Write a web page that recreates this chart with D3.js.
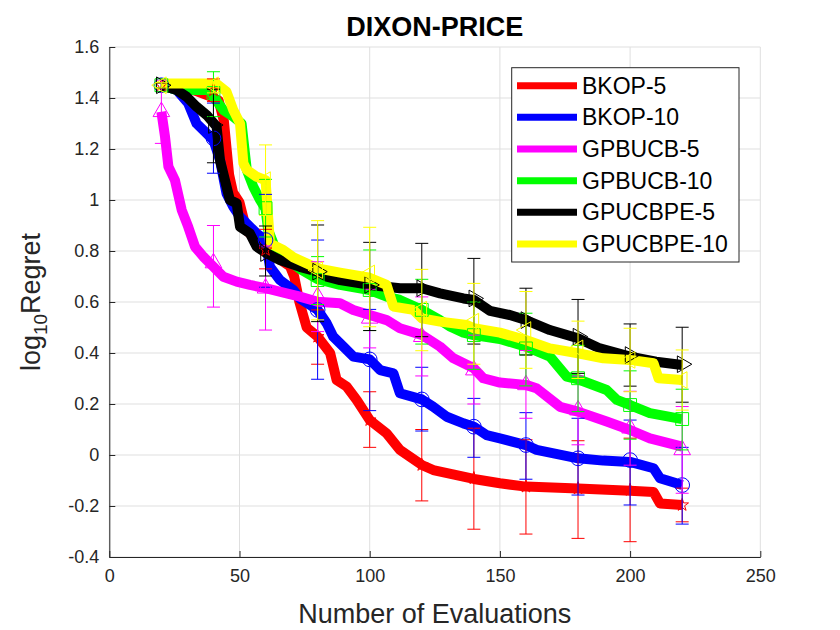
<!DOCTYPE html>
<html>
<head>
	<title> dixon-price regret </title>
	<script src="https://d3js.org/d3.v7.min.js"></script>
	<style>
		body { margin: 0; background: #fff; }
		text { font-family: "Liberation Sans", Arial, Helvetica, sans-serif; }
	</style>
</head>
<body>
	<svg width="840" height="630"></svg>
	<script type="text/javascript">
		// series names and colours, in plotting order
		let names = ["BKOP-5", "BKOP-10", "GPBUCB-5", "GPBUCB-10", "GPUCBPE-5", "GPUCBPE-10"];
		let colors = ["#ff0000", "#0000ff", "#ff00ff", "#00ff00", "#000000", "#ffff00"];

		// traced mean curves, [evaluations, log10 regret]
		let bkop5 = [[20,1.45],[30,1.44],[38,1.41],[42,1.39],[44,1.31],[46,1.1],[47.5,1.03],[50,0.99],[52.7,0.88],[56,0.85],[60,0.80],[65,0.77],[69.4,0.74],[71,0.70],[73,0.6],[75.8,0.50],[80,0.464],[84.8,0.40],[87.3,0.294],[91.2,0.268],[95,0.216],[100,0.137],[106.5,0.085],[111.6,0.02],[120,-0.039],[124.4,-0.059],[140,-0.094],[150,-0.111],[160,-0.124],[180,-0.131],[200,-0.14],[209,-0.145],[211.5,-0.19],[220,-0.196]];
		let bkop10 = [[20,1.45],[25.9,1.431],[30.3,1.379],[33.5,1.30],[37.4,1.261],[40,1.235],[42.5,1.157],[45,1.026],[47.6,0.974],[50.2,0.934],[54,0.895],[56.6,0.869],[60,0.843],[61.7,0.738],[65.5,0.686],[70.7,0.647],[73.2,0.614],[80,0.569],[83.5,0.516],[86,0.464],[89.9,0.425],[93.7,0.386],[100,0.375],[104,0.333],[109.1,0.320],[111.6,0.242],[120,0.218],[124.4,0.189],[129.6,0.150],[136,0.124],[140,0.111],[144.9,0.078],[150,0.065],[160,0.039],[164.1,0.02],[180,-0.013],[189.7,-0.022],[200,-0.027],[209,-0.052],[211.5,-0.091],[220,-0.118]];
		let gpbucb5 = [[20,1.346],[21.4,1.248],[22.7,1.131],[25.2,1.078],[27.8,0.961],[30.3,0.895],[32.9,0.817],[36.1,0.778],[40,0.738],[43.8,0.699],[48.9,0.68],[54,0.667],[60,0.654],[68.1,0.634],[73.2,0.621],[80,0.601],[88.6,0.595],[93.7,0.569],[100,0.549],[106.5,0.529],[111.6,0.497],[120,0.471],[127,0.425],[132,0.38],[140,0.34],[143.6,0.301],[150,0.284],[160,0.275],[164,0.262],[173.1,0.189],[180,0.17],[191,0.131],[200,0.098],[207.6,0.065],[220,0.033]];
		let gpbucb10 = [[20,1.45],[26,1.431],[39,1.431],[40,1.405],[43.8,1.353],[47.6,1.327],[50.8,1.30],[52.8,1.118],[55.3,1.052],[57.9,1.0],[60,0.965],[61,0.882],[63,0.83],[64.3,0.778],[68.1,0.77],[73.2,0.73],[80,0.69],[88.6,0.667],[100,0.647],[106.5,0.621],[111.6,0.608],[120,0.569],[127,0.529],[131,0.503],[136,0.48],[140,0.47],[150,0.455],[160,0.425],[169.2,0.386],[175.7,0.307],[180,0.297],[191,0.255],[194.9,0.216],[200,0.196],[207.6,0.164],[220,0.141]];
		let gpucbpe5 = [[20,1.45],[25.9,1.431],[29.7,1.405],[33.5,1.366],[37.4,1.333],[41.2,1.288],[42.5,1.157],[46.3,1.0],[48.9,0.987],[50.2,0.895],[54,0.869],[56.6,0.817],[60.4,0.791],[65.5,0.765],[73.2,0.738],[80,0.719],[83.5,0.699],[88.6,0.686],[100,0.667],[111.6,0.654],[120,0.654],[127,0.634],[136,0.614],[140,0.608],[146.2,0.565],[153.8,0.549],[160,0.529],[169.2,0.49],[180,0.458],[188.4,0.418],[200,0.386],[210,0.366],[220,0.353]];
		let gpucbpe10 = [[20,1.457],[41,1.457],[45,1.425],[47.6,1.353],[50.2,1.30],[51.5,1.144],[52.8,1.118],[56.6,1.091],[60,1.078],[61,0.934],[61.7,0.83],[66.8,0.804],[70.7,0.775],[80,0.732],[88.6,0.715],[100,0.695],[106.5,0.667],[109.1,0.582],[116.8,0.569],[120,0.536],[127,0.523],[137.3,0.51],[140,0.497],[150,0.48],[160,0.451],[169.2,0.418],[180,0.399],[189.7,0.379],[200,0.373],[209,0.36],[210.9,0.301],[220,0.294]];
		let curves = [bkop5, bkop10, gpbucb5, gpbucb10, gpucbpe5, gpucbpe10];

		// marker / error bar positions
		let markX = [20, 40, 60, 80, 100, 120, 140, 160, 180, 200, 220];
		let markY = [
			[1.45, 1.43, 0.804, 0.464, 0.137, -0.039, -0.091, -0.124, -0.131, -0.137, -0.196],
			[1.45, 1.242, 0.843, 0.569, 0.375, 0.218, 0.111, 0.039, -0.013, -0.02, -0.118],
			[1.346, 0.753, 0.654, 0.621, 0.536, 0.464, 0.333, 0.275, 0.176, 0.105, 0.02],
			[1.45, 1.42, 0.968, 0.686, 0.647, 0.569, 0.47, 0.418, 0.301, 0.196, 0.141],
			[1.45, 1.294, 0.792, 0.719, 0.667, 0.654, 0.614, 0.529, 0.464, 0.392, 0.356],
			[1.45, 1.45, 1.078, 0.725, 0.712, 0.57, 0.523, 0.49, 0.418, 0.373, 0.294]
		];
		let errLo = [
			[1.44, 1.386, 0.73, 0.356, 0.03, -0.18, -0.291, -0.31, -0.327, -0.34, -0.262],
			[1.44, 1.105, 0.658, 0.297, 0.174, 0.094, -0.009, -0.095, -0.157, -0.196, -0.271],
			[1.222, 0.58, 0.49, 0.484, 0.42, 0.31, 0.2, 0.144, 0.04, -0.04, -0.15],
			[1.44, 1.327, 0.855, 0.59, 0.488, 0.435, 0.336, 0.271, 0.17, 0.062, 0.02],
			[1.44, 1.146, 0.702, 0.523, 0.488, 0.464, 0.435, 0.392, 0.32, 0.27, 0.207],
			[1.44, 1.42, 0.94, 0.53, 0.503, 0.409, 0.356, 0.34, 0.30, 0.248, 0.176]
		];
		let errHi = [
			[1.46, 1.475, 0.885, 0.569, 0.248, 0.10, 0.105, 0.06, 0.056, 0.066, -0.13],
			[1.46, 1.38, 1.022, 0.843, 0.571, 0.344, 0.222, 0.166, 0.144, 0.137, 0.03],
			[1.47, 0.90, 0.82, 0.758, 0.65, 0.62, 0.47, 0.41, 0.31, 0.25, 0.19],
			[1.46, 1.503, 1.081, 0.778, 0.804, 0.689, 0.60, 0.556, 0.43, 0.33, 0.258],
			[1.46, 1.434, 0.898, 0.902, 0.834, 0.830, 0.771, 0.654, 0.61, 0.514, 0.501],
			[1.46, 1.464, 1.216, 0.919, 0.893, 0.728, 0.673, 0.641, 0.525, 0.497, 0.412]
		];

		let xTicks = [0, 50, 100, 150, 200, 250];
		let yTicks = [-0.4, -0.2, 0, 0.2, 0.4, 0.6, 0.8, 1, 1.2, 1.4, 1.6];
		let yTickLabels = ["-0.4", "-0.2", "0", "0.2", "0.4", "0.6", "0.8", "1", "1.2", "1.4", "1.6"];

		let svg = d3.select("svg");
		let x = d3.scaleLinear().domain([0, 250]).range([109.3, 760.3]);
		let y = d3.scaleLinear().domain([-0.4, 1.6]).range([557, 47]);
		let axisColor = "#262626";

		// grid
		let grid = svg.append("g").attr("stroke", "#dfdfdf").attr("stroke-width", 1);
		grid.selectAll(".gx").data(xTicks).enter().append("line")
			.attr("x1", d => x(d)).attr("x2", d => x(d))
			.attr("y1", y(-0.4)).attr("y2", y(1.6));
		grid.selectAll(".gy").data(yTicks).enter().append("line")
			.attr("x1", x(0)).attr("x2", x(250))
			.attr("y1", d => y(d)).attr("y2", d => y(d));

		// axes (inward ticks, box off)
		let xAxis = d3.axisBottom(x).tickValues(xTicks).tickSizeInner(-6).tickSizeOuter(0).tickPadding(12);
		let yAxis = d3.axisLeft(y).tickValues(yTicks).tickSizeInner(-6).tickSizeOuter(0).tickPadding(10)
			.tickFormat((d, i) => yTickLabels[i]);
		let gx = svg.append("g").attr("transform", "translate(0," + y(-0.4) + ")").call(xAxis);
		let gy = svg.append("g").attr("transform", "translate(" + x(0) + ",0)").call(yAxis);
		[gx, gy].forEach(g => {
			g.select(".domain").attr("stroke", axisColor);
			g.selectAll(".tick line").attr("stroke", axisColor);
			g.selectAll(".tick text").attr("fill", axisColor)
				.style("font-size", "18px").style("font-family", "'Liberation Sans', Arial, sans-serif");
		});

		// thick mean lines
		let line = d3.line().x(d => x(d[0])).y(d => y(d[1]));
		svg.append("g").selectAll("path").data(curves).enter().append("path")
			.attr("d", line)
			.attr("fill", "none")
			.attr("stroke", (d, i) => colors[i])
			.attr("stroke-width", 10)
			.attr("stroke-linejoin", "round");

		// error bars and markers
		let symbols = [
			{ type: d3.symbolStar, size: 50, rot: 0 },
			{ type: d3.symbolCircle, size: 170, rot: 0 },
			{ type: d3.symbolTriangle, size: 120, rot: 0 },
			{ type: d3.symbolSquare, size: 165, rot: 0 },
			{ type: d3.symbolTriangle, size: 120, rot: 90 },
			{ type: d3.symbolTriangle, size: 120, rot: -90 }
		];
		let cap = 6.5;
		names.forEach((name, s) => {
			let g = svg.append("g").attr("stroke", colors[s]).attr("stroke-width", 1).attr("fill", "none");
			let pts = markX.map((mx, i) => ({ x: mx, y: markY[s][i], lo: errLo[s][i], hi: errHi[s][i] }));
			let bars = g.selectAll(".bar").data(pts).enter().append("g");
			bars.append("line").attr("x1", d => x(d.x)).attr("x2", d => x(d.x))
				.attr("y1", d => y(d.lo)).attr("y2", d => y(d.hi));
			bars.append("line").attr("x1", d => x(d.x) - cap).attr("x2", d => x(d.x) + cap)
				.attr("y1", d => y(d.lo)).attr("y2", d => y(d.lo));
			bars.append("line").attr("x1", d => x(d.x) - cap).attr("x2", d => x(d.x) + cap)
				.attr("y1", d => y(d.hi)).attr("y2", d => y(d.hi));
			let sym = d3.symbol().type(symbols[s].type).size(symbols[s].size);
			g.selectAll(".mk").data(pts).enter().append("path")
				.attr("d", sym)
				.attr("transform", d => "translate(" + x(d.x) + "," + y(d.y) + ") rotate(" + symbols[s].rot + ")");
		});

		// title and labels
		svg.append("text").attr("x", 434.8).attr("y", 36).attr("text-anchor", "middle")
			.style("font-size", "27px").style("font-weight", "bold").attr("fill", "#000")
			.text("DIXON-PRICE");
		svg.append("text").attr("x", 434.8).attr("y", 623).attr("text-anchor", "middle")
			.style("font-size", "27px").attr("fill", axisColor)
			.text("Number of Evaluations");
		let yl = svg.append("text").attr("transform", "translate(40,302) rotate(-90)")
			.attr("text-anchor", "middle").style("font-size", "27px").attr("fill", axisColor);
		yl.append("tspan").text("log");
		yl.append("tspan").attr("dy", 7).style("font-size", "19px").text("10");
		yl.append("tspan").attr("dy", -7).text("Regret");

		// legend
		let lg = svg.append("g");
		lg.append("rect").attr("x", 511.7).attr("y", 67.7).attr("width", 227.3).attr("height", 194.3)
			.attr("fill", "#fff").attr("stroke", axisColor).attr("stroke-width", 1);
		let rowY = d3.scaleLinear().domain([0, 5]).range([85.7, 244]);
		let rows = lg.selectAll(".row").data(names).enter().append("g");
		rows.append("line").attr("x1", 517).attr("x2", 577)
			.attr("y1", (d, i) => rowY(i)).attr("y2", (d, i) => rowY(i))
			.attr("stroke", (d, i) => colors[i]).attr("stroke-width", 7);
		rows.append("text").attr("x", 582).attr("y", (d, i) => rowY(i) + 8)
			.style("font-size", "23px").attr("fill", "#000").text(d => d);
	</script>
</body>
</html>
